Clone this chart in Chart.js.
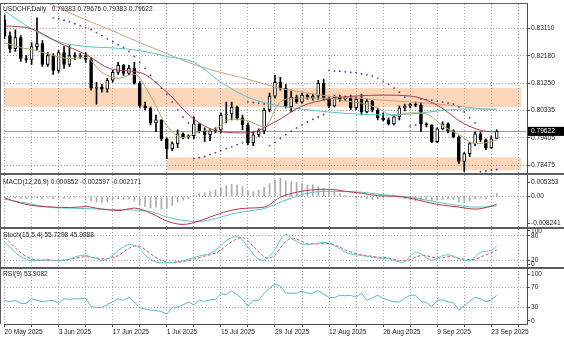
<!DOCTYPE html>
<html>
<head>
<meta charset="utf-8">
<script src="https://cdn.jsdelivr.net/npm/chart.js@4.4.1/dist/chart.umd.min.js"></script>
<style>
  html, body { margin: 0; background: #fff; }
</style>
</head>
<body>
<canvas id="chart" width="564" height="338"></canvas>
<script>
const symbol = "USDCHF"
const period = "Daily"

// one label every ten sessions, starting at bar 0
const dateLabels = ["20 May 2025", "3 Jun 2025", "17 Jun 2025", "1 Jul 2025", "15 Jul 2025",
	"29 Jul 2025", "12 Aug 2025", "26 Aug 2025", "9 Sep 2025", "23 Sep 2025"]

const open = [0.83402, 0.82865, 0.82428, 0.82798, 0.82093, 0.82059, 0.82495, 0.82596, 0.81891, 0.82193,
	0.81690, 0.82294, 0.81891, 0.82193, 0.82160, 0.82193, 0.82059, 0.81085, 0.81119, 0.81052,
	0.81354, 0.81622, 0.81857, 0.81589, 0.81757, 0.81253, 0.80481, 0.80414, 0.79910, 0.80011,
	0.79373, 0.79037, 0.79205, 0.79541, 0.79440, 0.79473, 0.79876, 0.79641, 0.79507, 0.79641,
	0.79675, 0.80178, 0.80212, 0.80447, 0.80078, 0.79843, 0.79238, 0.79507, 0.79641, 0.80346,
	0.80817, 0.81287, 0.81085, 0.80447, 0.80783, 0.80615, 0.80850, 0.80749, 0.80817, 0.81253,
	0.80749, 0.80481, 0.80783, 0.80716, 0.80749, 0.80414, 0.80716, 0.80279, 0.80649, 0.80346,
	0.80078, 0.80011, 0.79876, 0.80111, 0.80414, 0.80481, 0.80548, 0.80514, 0.79876, 0.79843,
	0.79272, 0.79708, 0.79876, 0.79641, 0.79440, 0.78600, 0.78869, 0.79205, 0.79541, 0.79339,
	0.79070, 0.79383]
const high = [0.83570, 0.82999, 0.83066, 0.82865, 0.82193, 0.82630, 0.83469, 0.82697, 0.82294, 0.82260,
	0.82361, 0.82495, 0.82529, 0.82294, 0.82260, 0.82294, 0.82126, 0.81287, 0.81219, 0.81421,
	0.81690, 0.81958, 0.81891, 0.81857, 0.81958, 0.81320, 0.80615, 0.80447, 0.80178, 0.80011,
	0.79406, 0.79272, 0.79675, 0.79574, 0.79507, 0.80111, 0.79876, 0.79742, 0.79708, 0.79742,
	0.80246, 0.80615, 0.80615, 0.80481, 0.80178, 0.79910, 0.79608, 0.79708, 0.80414, 0.80917,
	0.81522, 0.81454, 0.81219, 0.81018, 0.80850, 0.80917, 0.80884, 0.80884, 0.81354, 0.81387,
	0.80783, 0.80850, 0.80850, 0.80817, 0.80850, 0.80783, 0.80884, 0.80716, 0.80682, 0.80414,
	0.80246, 0.80078, 0.80178, 0.80481, 0.80548, 0.80581, 0.80615, 0.80581, 0.79910, 0.79843,
	0.79742, 0.79943, 0.79910, 0.79675, 0.79473, 0.78903, 0.79238, 0.79608, 0.79608, 0.79373,
	0.79473, 0.79676]
const low = [0.82764, 0.82294, 0.82328, 0.81992, 0.81958, 0.81891, 0.82395, 0.81824, 0.81824, 0.81555,
	0.81622, 0.81757, 0.81824, 0.82059, 0.82093, 0.81958, 0.81018, 0.80548, 0.80951, 0.80951,
	0.81287, 0.81555, 0.81522, 0.81555, 0.81219, 0.80414, 0.80346, 0.79843, 0.79608, 0.79305,
	0.78701, 0.78970, 0.79070, 0.79373, 0.79373, 0.79373, 0.79574, 0.79272, 0.79305, 0.79574,
	0.79574, 0.79910, 0.80011, 0.80011, 0.79675, 0.79171, 0.79138, 0.79440, 0.79541, 0.80279,
	0.80749, 0.81018, 0.80414, 0.80279, 0.80581, 0.80581, 0.80716, 0.80682, 0.80716, 0.80682,
	0.80414, 0.80447, 0.80649, 0.80682, 0.80346, 0.80346, 0.80178, 0.80246, 0.80279, 0.80011,
	0.79977, 0.79843, 0.79843, 0.80011, 0.80313, 0.80414, 0.80447, 0.79608, 0.79776, 0.79238,
	0.79238, 0.79675, 0.79574, 0.79406, 0.78533, 0.78264, 0.78768, 0.79138, 0.79272, 0.79003,
	0.79037, 0.79383]
const close = [0.82865, 0.82428, 0.82798, 0.82093, 0.82059, 0.82495, 0.82596, 0.81891, 0.82193, 0.81690,
	0.82294, 0.81891, 0.82193, 0.82160, 0.82193, 0.82059, 0.81085, 0.81119, 0.81052, 0.81354,
	0.81622, 0.81857, 0.81589, 0.81757, 0.81253, 0.80481, 0.80414, 0.79910, 0.80011, 0.79373,
	0.79037, 0.79205, 0.79541, 0.79440, 0.79473, 0.79876, 0.79641, 0.79507, 0.79641, 0.79675,
	0.80178, 0.80212, 0.80447, 0.80078, 0.79843, 0.79238, 0.79507, 0.79641, 0.80346, 0.80817,
	0.81287, 0.81085, 0.80481, 0.80783, 0.80615, 0.80850, 0.80783, 0.80817, 0.81253, 0.80749,
	0.80481, 0.80783, 0.80716, 0.80749, 0.80414, 0.80716, 0.80279, 0.80649, 0.80346, 0.80078,
	0.80011, 0.79876, 0.80111, 0.80414, 0.80481, 0.80548, 0.80514, 0.79876, 0.79843, 0.79272,
	0.79708, 0.79876, 0.79641, 0.79440, 0.78600, 0.78869, 0.79205, 0.79541, 0.79339, 0.79070,
	0.79373, 0.79622]

// moving averages, read every 5th bar (slow ones) and every 3rd bar (fast one)
const days5 = [0, 5, 10, 15, 20, 25, 30, 35, 40, 45, 50, 55, 60, 65, 70, 75, 80, 85, 90, 91]
const maSlow = [0.8458, 0.8421, 0.8381, 0.8340, 0.8303, 0.8263, 0.8226, 0.8189, 0.8162, 0.8139,
	0.8112, 0.8095, 0.8082, 0.8075, 0.8068, 0.8062, 0.8055, 0.8045, 0.8036, 0.8035]
const maMid = [0.8370, 0.8310, 0.8266, 0.8250, 0.8245, 0.8236, 0.8216, 0.8196, 0.8129, 0.8078,
	0.8051, 0.8038, 0.8028, 0.8021, 0.8018, 0.8021, 0.8031, 0.8038, 0.8038, 0.8038]
const maTrend = [0.8320, 0.8310, 0.8263, 0.8223, 0.8172, 0.8162, 0.8095, 0.8004, 0.7961, 0.7957,
	0.7994, 0.8048, 0.8072, 0.8082, 0.8085, 0.8082, 0.8051, 0.7988, 0.7961, 0.7961]
const days3 = [0, 3, 6, 9, 12, 15, 18, 21, 24, 27, 30, 33, 36, 39, 42, 45, 48, 51, 54, 57,
	60, 63, 66, 69, 72, 75, 78, 81, 84, 87, 90, 91]
const maFast = [0.8263, 0.8246, 0.8236, 0.8219, 0.8209, 0.8213, 0.8162, 0.8142, 0.8156, 0.8082,
	0.7981, 0.7941, 0.7961, 0.7971, 0.8004, 0.7998, 0.7978, 0.8062, 0.8075, 0.8075,
	0.8075, 0.8065, 0.8058, 0.8041, 0.8015, 0.8025, 0.8021, 0.7981, 0.7951, 0.7921,
	0.7927, 0.7934]

// parabolic SAR, one dot per bar
const sar = [null, null, null, null, null, null, null, null, null, 0.8347,
	0.8344, 0.8339, 0.8334, 0.8327, 0.8320, 0.8313, 0.8307, 0.8297, 0.8287, 0.8276,
	0.8266, 0.8256, 0.8246, 0.8233, 0.8216, 0.8196, 0.8176, 0.8152, 0.8129, 0.8109,
	0.8088, 0.8062, 0.8035, 0.8011, 0.7991, 0.7870, 0.7873, 0.7877, 0.7884, 0.7890,
	0.7897, 0.7904, 0.7910, 0.7917, 0.7924, 0.8062, 0.8060, 0.8058, 0.8055, 0.7914,
	0.7925, 0.7938, 0.7951, 0.7963, 0.7974, 0.7984, 0.7994, 0.8003, 0.8011, 0.8019,
	0.8169, 0.8167, 0.8166, 0.8164, 0.8162, 0.8161, 0.8157, 0.8154, 0.8149, 0.8142,
	0.8132, 0.8122, 0.8109, 0.8095, 0.8078, 0.7981, 0.7984, 0.8072, 0.8070, 0.8068,
	0.8065, 0.8062, 0.8058, 0.8055, 0.8045, 0.8028, 0.8008, 0.7991, 0.7826, 0.7828,
	0.7830, 0.7833]

// MACD(12,26,9): lines every 3rd bar, histogram per bar
const macdMain = [-0.00039, -0.00186, -0.00269, -0.00297, -0.00311, -0.00283, -0.00353, -0.00394, -0.00325, -0.00464,
	-0.00686, -0.00783, -0.00686, -0.00519, -0.00381, -0.00325, -0.00297, -0.00019, 0.00119, 0.00189,
	0.00203, 0.00147, 0.00092, 0.00022, 0.00008, -0.00047, -0.00158, -0.00242, -0.00297, -0.00353,
	-0.00269, -0.002171]
const macdSignal = [-0.00075, -0.00158, -0.00242, -0.00311, -0.00325, -0.00339, -0.00353, -0.00367, -0.00381, -0.00422,
	-0.00575, -0.00672, -0.00700, -0.00617, -0.00492, -0.00408, -0.00339, -0.00158, 0.00008, 0.00119,
	0.00147, 0.00139, 0.00119, 0.00064, 0.00022, -0.00019, -0.00103, -0.00186, -0.00256, -0.00297,
	-0.00283, -0.002597]
const macdHist = [-0.0003, -0.0004, -0.0003, -0.0005, -0.0006, -0.0004, -0.0003, -0.0005, -0.0004, -0.0006,
	-0.0003, -0.0005, -0.0004, -0.0003, -0.0002, -0.0004, -0.0012, -0.0016, -0.0018, -0.0015,
	-0.0010, -0.0006, -0.0008, -0.0007, -0.0013, -0.0024, -0.0028, -0.0032, -0.0030, -0.0034,
	-0.0033, -0.0025, -0.0016, -0.0010, -0.0005, 0.0004, 0.0008, 0.0010, 0.0014, 0.0019,
	0.0026, 0.0031, 0.0034, 0.0032, 0.0027, 0.0016, 0.0014, 0.0017, 0.0026, 0.0036,
	0.0046, 0.0052, 0.0044, 0.0042, 0.0040, 0.0036, 0.0032, 0.0033, 0.0028, 0.0022,
	0.0018, 0.0012, 0.0008, 0.0003, 0.0001, -0.0004, -0.0003, -0.0006, -0.0008, -0.0007,
	-0.0004, -0.0002, -0.0001, -0.0001, -0.0006, -0.0009, -0.0013, -0.0010, -0.0008, -0.0011,
	-0.0010, -0.0008, -0.0007, -0.0009, -0.0016, -0.0018, -0.0013, -0.0006, -0.0004, -0.0006,
	0.0002, 0.000852]

// Stochastic(15,5,4)
const stochMain = [64, 52, 38, 28, 22, 18, 19, 20, 21, 19,
	18, 19, 22, 27, 31, 32, 27, 24, 19, 22,
	32, 43, 53, 59, 56, 50, 32, 22, 15, 13,
	13, 14, 16, 18, 22, 26, 30, 33, 36, 45,
	56, 68, 76, 78, 70, 52, 35, 22, 20, 30,
	45, 70, 84, 74, 66, 60, 59, 60, 62, 64,
	62, 56, 48, 40, 35, 33, 31, 29, 27, 25,
	24, 23, 19, 15, 16, 30, 39, 35, 26, 19,
	24, 31, 33, 30, 23, 20, 18, 28, 39, 42,
	44, 55.7298]
const stochSignal = [76, 64, 50, 38, 29, 23, 20, 19, 19, 18.5,
	19, 20, 22, 24, 27, 28, 27, 25, 23, 23,
	26, 31, 40, 49, 55, 54, 46, 36, 26, 19,
	15, 13, 14, 16, 19, 22, 26, 30, 33, 37,
	45, 56, 66, 73, 76, 68, 54, 40, 28, 25,
	32, 50, 66, 74, 72, 66, 61, 60, 60, 61,
	61, 58, 52, 45, 40, 36, 33, 31, 29, 27,
	26, 25, 22, 19, 18, 21, 27, 31, 31, 27,
	25, 26, 28, 28, 24, 22, 21, 22, 27, 33,
	38, 45.9888]

// RSI(9)
const rsi = [44, 41, 44, 38, 38, 47, 44, 41, 43, 44,
	38, 47, 46, 47, 47, 48, 32, 30, 30, 36,
	41, 47, 44, 50, 41, 30, 27, 25, 24, 22,
	17, 30, 31, 35, 41, 35, 44, 42, 45, 46,
	57, 55, 63, 55, 47, 32, 44, 44, 57, 68,
	76, 72, 58, 58, 58, 62, 58, 58, 63, 56,
	50, 49, 54, 53, 54, 50, 58, 44, 49, 54,
	48, 44, 41, 41, 48, 54, 54, 42, 40, 31,
	44, 45, 41, 40, 25, 33, 42, 50, 47, 41,
	45, 53.9082]

// right-hand scale labels of each pane
const priceTicks = [0.83110, 0.82180, 0.81250, 0.80335, 0.79405, 0.78475]
const macdLevels = [0.005353, 0, -0.008241]
const stochLevels = [100, 80, 20, 0]
const rsiLevels = [100, 70, 30, 0]

// supply / demand boxes: first bar, last bar, upper and lower price
const zoneFrom = [-1, 30]
const zoneTo = [95.5, 95.5]
const zoneHigh = [0.8109, 0.7874]
const zoneLow = [0.8045, 0.7830]

const lastBar = close.length - 1
const bars = close.map((_, i) => i)
const perBar = (ys) => ys.map((y, i) => ({ x: i, y }))
const sampled = (xs, ys) => xs.map((x, k) => ({ x, y: ys[k] }))

const gridCol = "#a4a4a4"
const axisCol = "#4a4a4a"
const textCol = "#1c1c1c"
const FONT = "Liberation Sans"
const FS = 6.6

// pane heights in px (also used as stack weights)
const W_MAIN = 172, W_MACD = 54, W_STOCH = 40.5, W_RSI = 56.5

Chart.defaults.font.family = FONT
Chart.defaults.font.size = FS
Chart.defaults.color = textCol

// pulls the outermost level labels a few px inside their pane
function levelTicks(levels, insetTop, insetBottom, weight) {
	return (scale) => {
		const perPx = (scale.max - scale.min) / weight
		const last = levels.length - 1
		scale.ticks = levels.map((level, k) => ({
			value: level - (k === 0 ? insetTop * perPx : 0) + (k === last ? insetBottom * perPx : 0),
			level,
			edge: k === 0 || k === last,
		}))
	}
}

const fixWidth = (scale) => {
	scale.width = 37
	scale.paddingTop = 0
	scale.paddingBottom = 0
}

const paneScale = (weight, min, max, extra) => ({
	type: "linear",
	position: "right",
	stack: "panes",
	stackWeight: weight,
	min,
	max,
	afterFit: fixWidth,
	grid: {
		color: (c) => (c.tick && c.tick.edge ? "rgba(0,0,0,0)" : gridCol),
		tickColor: axisCol,
		tickLength: 3,
	},
	border: { color: axisCol, dash: [1, 2] },
	ticks: { autoSkip: false, padding: 1, color: textCol, font: { size: FS } },
	...extra,
})

const panes = {
	id: "panes",
	beforeDraw(chart) {
		const { ctx, chartArea: a, scales } = chart
		const { x, y } = scales
		ctx.save()
		ctx.fillStyle = "#fbd6b8"
		zoneFrom.forEach((from, k) => {
			const x0 = Math.max(a.left, x.getPixelForValue(from))
			const x1 = Math.min(a.right, x.getPixelForValue(zoneTo[k]))
			const y0 = y.getPixelForValue(zoneHigh[k])
			const y1 = y.getPixelForValue(zoneLow[k])
			ctx.fillRect(x0, y0, x1 - x0, y1 - y0)
		})
		ctx.restore()
	},
	beforeDatasetsDraw(chart) {
		const { ctx, chartArea: a, scales } = chart
		const py = Math.round(scales.y.getPixelForValue(close[lastBar])) + 0.5
		ctx.save()
		ctx.strokeStyle = "#9c9c9c"
		ctx.lineWidth = 1
		ctx.beginPath()
		ctx.moveTo(a.left, py)
		ctx.lineTo(a.right, py)
		ctx.stroke()
		ctx.restore()
	},
	afterDraw(chart) {
		const { ctx, chartArea: a, scales } = chart
		ctx.save()
		// frame and pane separators
		ctx.fillStyle = "#5c5c5c"
		ctx.fillRect(0, a.top - 1, a.right + 1, 1)
		ctx.fillRect(0, a.top - 1, 1, a.bottom - a.top + 1)
		for (const id of ["macd", "stoch", "rsi"]) {
			ctx.fillRect(0, Math.round(scales[id].top) - 1, chart.width, 2)
		}

		// pane captions
		ctx.font = FS + "px " + FONT
		ctx.fillStyle = textCol
		ctx.textBaseline = "middle"
		ctx.textAlign = "left"
		const f5 = (v) => v.toFixed(5)
		ctx.fillText(`${symbol},${period}   ${f5(open[lastBar])} ${f5(high[lastBar])} ${f5(low[lastBar])} ${f5(close[lastBar])}`, 3, scales.y.top + 5.5)
		ctx.fillText(`MACD(12,26,9) ${macdHist[lastBar].toFixed(6)} ${macdSignal[macdSignal.length - 1].toFixed(6)} ${macdMain[macdMain.length - 1].toFixed(6)}`, 3, scales.macd.top + 8)
		ctx.fillText(`Stoch(15,5,4) ${stochMain[lastBar].toFixed(4)} ${stochSignal[lastBar].toFixed(4)}`, 3, scales.stoch.top + 7)
		ctx.fillText(`RSI(9) ${rsi[lastBar].toFixed(4)}`, 3, scales.rsi.top + 6.5)

		// last price tag on the scale
		const py = scales.y.getPixelForValue(close[lastBar])
		ctx.fillStyle = "#000"
		ctx.fillRect(a.right + 1, py - 4.5, chart.width - a.right - 1, 9)
		ctx.fillStyle = "#fff"
		ctx.fillText(f5(close[lastBar]), a.right + 4, py)
		ctx.restore()
	},
}

new Chart(document.getElementById("chart"), {
	type: "bar",
	data: {
		datasets: [
			{
				type: "line",
				label: "SAR",
				data: perBar(sar),
				yAxisID: "y",
				showLine: false,
				pointRadius: 0.9,
				pointBorderWidth: 0,
				pointBackgroundColor: "#4a40a8",
				order: 0,
			},
			{
				type: "line",
				label: "MA fast",
				data: sampled(days3, maFast),
				yAxisID: "y",
				borderColor: "#b0a66c",
				borderWidth: 1,
				pointRadius: 0,
				cubicInterpolationMode: "monotone",
				order: 1,
			},
			{
				type: "line",
				label: "MA trend",
				data: sampled(days5, maTrend),
				yAxisID: "y",
				borderColor: "#a83f4d",
				borderWidth: 1,
				pointRadius: 0,
				cubicInterpolationMode: "monotone",
				order: 2,
			},
			{
				type: "line",
				label: "MA mid",
				data: sampled(days5, maMid),
				yAxisID: "y",
				borderColor: "#5cc2c8",
				borderWidth: 1,
				pointRadius: 0,
				cubicInterpolationMode: "monotone",
				order: 3,
			},
			{
				type: "line",
				label: "MA slow",
				data: sampled(days5, maSlow),
				yAxisID: "y",
				borderColor: "#c9a484",
				borderWidth: 1,
				pointRadius: 0,
				cubicInterpolationMode: "monotone",
				order: 4,
			},
			{
				label: "body",
				data: bars.map((i) => ({ x: i, y: [open[i], close[i]] })),
				yAxisID: "y",
				grouped: false,
				barThickness: 3,
				minBarLength: 1,
				borderWidth: 1,
				borderSkipped: false,
				borderColor: "#000",
				backgroundColor: (c) => (close[c.dataIndex] >= open[c.dataIndex] ? "#fff" : "#000"),
				order: 5,
			},
			{
				label: "wick",
				data: bars.map((i) => ({ x: i, y: [low[i], high[i]] })),
				yAxisID: "y",
				grouped: false,
				barThickness: 1,
				backgroundColor: "#000",
				order: 6,
			},
			{
				label: "MACD hist",
				data: perBar(macdHist),
				yAxisID: "macd",
				grouped: false,
				barThickness: 1,
				backgroundColor: "#ababab",
				order: 9,
			},
			{
				type: "line",
				label: "MACD",
				data: sampled(days3, macdMain),
				yAxisID: "macd",
				borderColor: "#b5394d",
				borderWidth: 1,
				pointRadius: 0,
				cubicInterpolationMode: "monotone",
				order: 7,
			},
			{
				type: "line",
				label: "Signal",
				data: sampled(days3, macdSignal),
				yAxisID: "macd",
				borderColor: "#5cc2c8",
				borderWidth: 1,
				pointRadius: 0,
				cubicInterpolationMode: "monotone",
				order: 8,
			},
			{
				type: "line",
				label: "Stoch",
				data: perBar(stochMain),
				yAxisID: "stoch",
				borderColor: "#5cc2c8",
				borderWidth: 1,
				pointRadius: 0,
				tension: 0.3,
				order: 7,
			},
			{
				type: "line",
				label: "Stoch signal",
				data: perBar(stochSignal),
				yAxisID: "stoch",
				borderColor: "#d24e5e",
				borderWidth: 1,
				borderDash: [3, 2],
				pointRadius: 0,
				tension: 0.3,
				order: 8,
			},
			{
				type: "line",
				label: "RSI",
				data: perBar(rsi),
				yAxisID: "rsi",
				borderColor: "#5ab8c8",
				borderWidth: 1,
				pointRadius: 0,
				order: 7,
			},
		],
	},
	options: {
		responsive: false,
		animation: false,
		devicePixelRatio: 1,
		layout: { padding: { top: 1, left: 0, right: 0, bottom: 0 } },
		plugins: { legend: { display: false }, tooltip: { enabled: false } },
		scales: {
			x: {
				type: "linear",
				min: -0.1,
				max: 96.6,
				offset: false,
				afterBuildTicks: (s) => {
					s.ticks = Array.from({ length: 20 }, (_, k) => ({ value: k * 5 }))
				},
				afterFit: (s) => {
					s.height = 14
					s.paddingLeft = 0
					s.paddingRight = 0
				},
				grid: { offset: false, color: gridCol, tickColor: axisCol, tickLength: 3 },
				border: { color: axisCol, dash: [1, 2] },
				ticks: {
					align: "start",
					maxRotation: 0,
					autoSkip: false,
					padding: 1,
					color: textCol,
					callback: (v) => (v % 10 === 0 ? dateLabels[v / 10] : ""),
				},
			},
			y: paneScale(W_MAIN, 0.78164, 0.83939, {
				afterBuildTicks: (s) => {
					s.ticks = priceTicks.map((v) => ({ value: v }))
				},
				ticks: { autoSkip: false, padding: 1, color: textCol, callback: (v) => v.toFixed(5) },
			}),
			macd: paneScale(W_MACD, -0.0088, 0.0062, {
				afterBuildTicks: levelTicks(macdLevels, 4.7, 2.7, W_MACD),
				ticks: {
					autoSkip: false,
					padding: 1,
					color: textCol,
					callback: (v, i, t) => (t[i].level === 0 ? "0.00" : t[i].level.toFixed(6)),
				},
			}),
			stoch: paneScale(W_STOCH, 0, 100, {
				afterBuildTicks: levelTicks(stochLevels, 3, 4, W_STOCH),
				ticks: { autoSkip: false, padding: 1, color: textCol, callback: (v, i, t) => String(t[i].level) },
			}),
			rsi: paneScale(W_RSI, -2.3, 107.2, {
				afterBuildTicks: levelTicks(rsiLevels, 2.8, 2.1, W_RSI),
				ticks: { autoSkip: false, padding: 1, color: textCol, callback: (v, i, t) => String(t[i].level) },
			}),
		},
	},
	plugins: [panes],
})
</script>
</body>
</html>
